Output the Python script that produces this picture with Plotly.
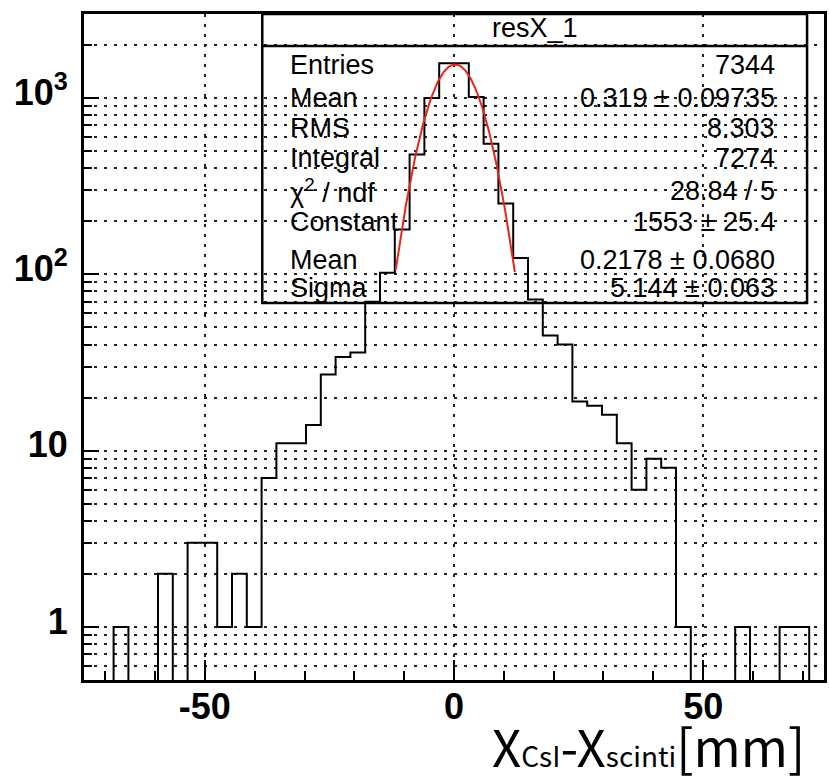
import numpy as np
import plotly.graph_objects as go

# Histogram resX_1: 50 bins of width 2.97 mm between -74.25 and 74.25 mm
bin_low = -74.25
bin_width = 2.97
counts = [
    0, 0, 1, 0, 0, 2, 0, 3, 3, 1,
    2, 1, 7, 11, 11, 14, 27, 34, 36, 70,
    102, 180, 478, 1000, 1575, 1575, 1013, 551, 252, 124,
    72, 45, 40, 19, 18, 16, 11, 6, 9, 8,
    1, 0, 0, 0, 1, 0, 0, 1, 1, 0,
]

# Gaussian fit result and fit window
fit_constant = 1553.0
fit_mean = 0.2178
fit_sigma = 5.144
fit_range = (-11.7, 12.2)

# Statistics box contents
stat_title = "resX_1"
stat_labels = ["Entries", "Mean", "RMS", "Integral", "χ<sup>2</sup> / ndf",
               "Constant", "Mean", "Sigma"]
stat_values = ["7344", "0.319 ± 0.09735", "8.303", "7274", "28.84 / 5",
               "1553 ± 25.4", "0.2178 ± 0.0680", "5.144 ± 0.063"]

x_tick_vals = [-50, 0, 50]
x_tick_text = ["-50", "0", "50"]
y_tick_vals = [1, 10, 100, 1000]
y_tick_text = ["1", "10", "10<sup>2</sup>", "10<sup>3</sup>"]

Y_MIN, Y_MAX = 0.5, 3000.0

# ---- build the histogram outline (empty bins drop to the bottom of the frame)
n_bins = len(counts)
edges = bin_low + bin_width * np.arange(n_bins + 1)
floor = Y_MIN * 0.2
xs, ys = [edges[0]], [floor]
for i, c in enumerate(counts):
    v = c if c > 0 else floor
    xs += [edges[i], edges[i + 1]]
    ys += [v, v]
xs.append(edges[-1])
ys.append(floor)

xf = np.linspace(fit_range[0], fit_range[1], 300)
yf = fit_constant * np.exp(-0.5 * ((xf - fit_mean) / fit_sigma) ** 2)

fig = go.Figure()
fig.add_trace(go.Scatter(x=xs, y=ys, mode="lines",
                         line=dict(color="black", width=2), hoverinfo="skip"))
fig.add_trace(go.Scatter(x=xf, y=yf, mode="lines",
                         line=dict(color="#e8251c", width=2), hoverinfo="skip"))

# ---- frame geometry in pixels
W, H = 829, 782
L, R, T, B = 84, 827, 14, 680


def px(x):
    return (x - L) / (R - L)


def py(y):
    return (B - y) / (B - T)


grid_dash = "3px,7px"
tick_font = dict(family="Liberation Sans", size=36, color="black", weight="bold")

minor_y = [k * 10.0 ** d for d in range(-1, 4) for k in range(2, 10)
           if Y_MIN < k * 10.0 ** d < Y_MAX and k * 10.0 ** d not in y_tick_vals]

fig.update_layout(
    width=W, height=H,
    margin=dict(l=L, r=W - R, t=T, b=H - B),
    plot_bgcolor="white", paper_bgcolor="white",
    showlegend=False,
    xaxis=dict(
        range=[edges[0], edges[-1]],
        tickmode="array", tickvals=x_tick_vals, ticktext=x_tick_text,
        ticks="inside", ticklen=20, tickwidth=2, tickcolor="black",
        showline=True, linewidth=3, linecolor="black", mirror=True,
        showgrid=True, gridcolor="#222", gridwidth=1.5, griddash=grid_dash,
        zeroline=False, tickfont=tick_font, ticklabelstandoff=-7,
        minor=dict(tickmode="linear", tick0=0, dtick=10, ticks="inside",
                   ticklen=9, tickwidth=2, tickcolor="black", showgrid=False),
    ),
    yaxis=dict(
        type="log",
        range=[np.log10(Y_MIN), np.log10(Y_MAX)],
        tickmode="array", tickvals=y_tick_vals, ticktext=y_tick_text,
        ticks="inside", ticklen=15, tickwidth=2, tickcolor="black",
        showline=True, linewidth=3, linecolor="black", mirror=True,
        showgrid=True, gridcolor="#222", gridwidth=1.5, griddash=grid_dash,
        zeroline=False, tickfont=tick_font, ticklabelstandoff=6,
        ticklabelshift=-6,
        minor=dict(tickmode="array", tickvals=minor_y, ticks="inside",
                   ticklen=8, tickwidth=2, tickcolor="black",
                   showgrid=True, gridcolor="#222", gridwidth=1.5,
                   griddash=grid_dash),
    ),
)

# ---- statistics box
box_l, box_r, box_t, box_b, box_sep = 263, 810, T, 303, 46
fig.add_shape(type="rect", xref="paper", yref="paper",
              x0=px(box_l), x1=px(box_r), y0=py(box_b), y1=py(box_t),
              line=dict(color="black", width=2.5), fillcolor="rgba(0,0,0,0)")
fig.add_shape(type="line", xref="paper", yref="paper",
              x0=px(box_l), x1=px(box_r), y0=py(box_sep), y1=py(box_sep),
              line=dict(color="black", width=2.5))

stat_font = dict(family="Liberation Sans", size=27, color="black")
fig.add_annotation(xref="paper", yref="paper", x=px((box_l + box_r) / 2),
                   y=py(28), text=stat_title, showarrow=False,
                   xanchor="center", yanchor="middle", font=stat_font)
row_y = [65, 98, 128, 158, 191, 222, 260, 288]
for lab, val, yy in zip(stat_labels, stat_values, row_y):
    fig.add_annotation(xref="paper", yref="paper", x=px(289), y=py(yy),
                       text=lab, showarrow=False, xanchor="left",
                       yanchor="middle", font=stat_font)
    fig.add_annotation(xref="paper", yref="paper", x=px(780), y=py(yy),
                       text=val, showarrow=False, xanchor="right",
                       yanchor="middle", font=stat_font)

# ---- axis title
sub = "<span style='font-size:28px'>{}</span>"
fig.add_annotation(xref="paper", yref="paper", x=px(810), y=py(745),
                   text="X" + sub.format("CsI") + "-X" + sub.format("scinti") + "[mm]",
                   showarrow=False, xanchor="right", yanchor="middle",
                   font=dict(family="Noto Sans CJK JP", size=51, color="black"))

fig.write_html("out.html")
